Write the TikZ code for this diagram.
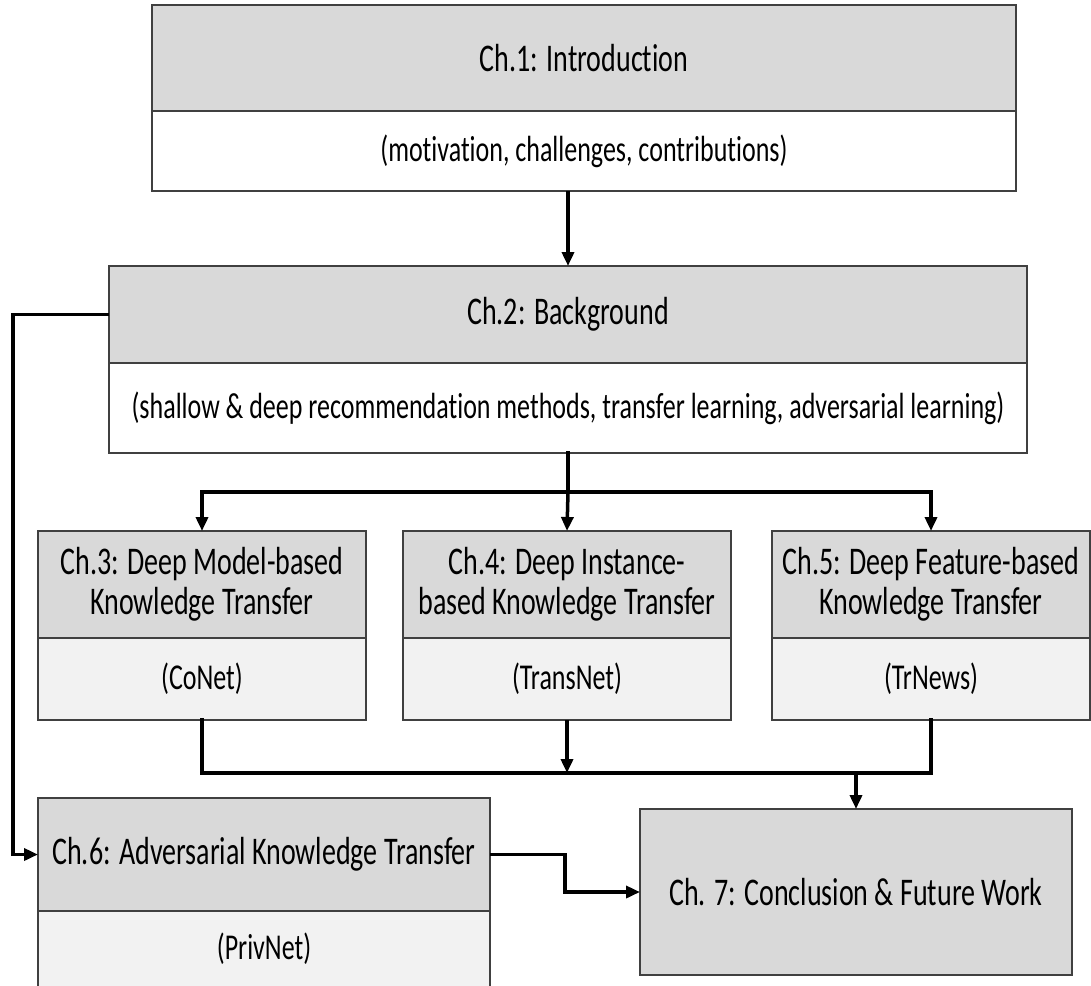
\documentclass[tikz,border=0pt]{standalone}
\usepackage{fontspec}
\setmainfont{Carlito}[Ligatures=NoCommon]
\usetikzlibrary{shapes, arrows.meta, positioning, calc}

\definecolor{headgray}{RGB}{217,217,217}
\definecolor{subgray}{RGB}{242,242,242}
\definecolor{edgegray}{RGB}{64,64,64}
\newcommand{\stretchtext}[1]{\scalebox{1}[1.4]{#1}}

\begin{document}
\begin{tikzpicture}[
			x=1pt, y=-1pt,
			head/.style={rectangle, draw=edgegray, line width=1.5pt, fill=headgray, outer sep=0pt, inner sep=2pt, align=center, font=\fontsize{28}{40}\selectfont},
			sub/.style={rectangle, draw=edgegray, line width=1.5pt, fill=subgray, outer sep=0pt, align=center, font=\fontsize{26}{32}\selectfont},
			line/.style={line width=3.5pt, line cap=rect},
			arrow/.style={-{Triangle[length=14pt, width=12pt]}, line width=3.5pt}
			]
			\useasboundingbox (0,0) rectangle (1091,985);
			
			\node[head, minimum width=864pt, minimum height=106pt] (c1a) at (584,58) {\stretchtext{Ch.1: Introduction}};
			\node[sub, fill=white, minimum width=864pt, minimum height=80pt, below=0pt of c1a] (c1b) {\stretchtext{(motivation, challenges, contributions)}};
			
			\node[head, minimum width=918pt, minimum height=97pt] (c2a) at (568,314.5) {\stretchtext{Ch.2: Background}};
			\node[sub, fill=white, minimum width=918pt, minimum height=90pt, below=0pt of c2a] (c2b) {\stretchtext{(shallow \& deep recommendation methods, transfer learning, adversarial learning)}};
			
			\node[head, minimum width=328pt, minimum height=107pt] (c3a) at (202,584.5) {\stretchtext{Ch.3: Deep Model-based}\\\stretchtext{Knowledge Transfer}};
			\node[sub, minimum width=328pt, minimum height=82pt, below=0pt of c3a] (c3b) {\stretchtext{(CoNet)}};
			
			\node[head, minimum width=328pt, minimum height=107pt] (c4a) at (567,584.5) {\stretchtext{Ch.4: Deep Instance-}\\\stretchtext{based Knowledge Transfer}};
			\node[sub, minimum width=328pt, minimum height=82pt, below=0pt of c4a] (c4b) {\stretchtext{(TransNet)}};
			
			\node[head, minimum width=318pt, minimum height=107pt] (c5a) at (931,584.5) {\stretchtext{Ch.5: Deep Feature-based}\\\stretchtext{Knowledge Transfer}};
			\node[sub, minimum width=318pt, minimum height=82pt, below=0pt of c5a] (c5b) {\stretchtext{(TrNews)}};
			
			\node[head, minimum width=452pt, minimum height=113pt] (c6a) at (264,854.5) {\stretchtext{Ch.6: Adversarial Knowledge Transfer}};
			\node[sub, minimum width=452pt, minimum height=76pt, below=0pt of c6a] (c6b) {\stretchtext{(PrivNet)}};
			
			\node[head, minimum width=432pt, minimum height=166pt] (c7) at (856,892) {\stretchtext{Ch. 7: Conclusion \& Future Work}};
			
			\coordinate (split) at ($(c2b.south)+(0,39)$);
			\coordinate (join) at ($(c4b.south)+(0,53)$);
			
			% top-down flow
			\draw[arrow] (c2a.north |- c1b.south) -- (c2a.north);
			\draw[line] (c2b.south) -- (split);
			\draw[line] (split -| c3a.north) -- (split -| c5a.north);
			\draw[arrow] (split -| c3a.north) -- (c3a.north);
			\draw[arrow] (split) -- (c4a.north);
			\draw[arrow] (split -| c5a.north) -- (c5a.north);
			
			% merge into conclusion
			\draw[line] (c3b.south) |- (join) -| (c5b.south);
			\draw[arrow] (c4b.south) -- (join);
			\draw[arrow] (join -| c7.north) -- (c7.north);
			
			% side paths
			\draw[arrow] (c2a.west) -- ++(-96,0) |- (c6a.west);
			\draw[arrow] (c6a.east) -- ++(75,0) |- (c7.west);
		\end{tikzpicture}
\end{document}
